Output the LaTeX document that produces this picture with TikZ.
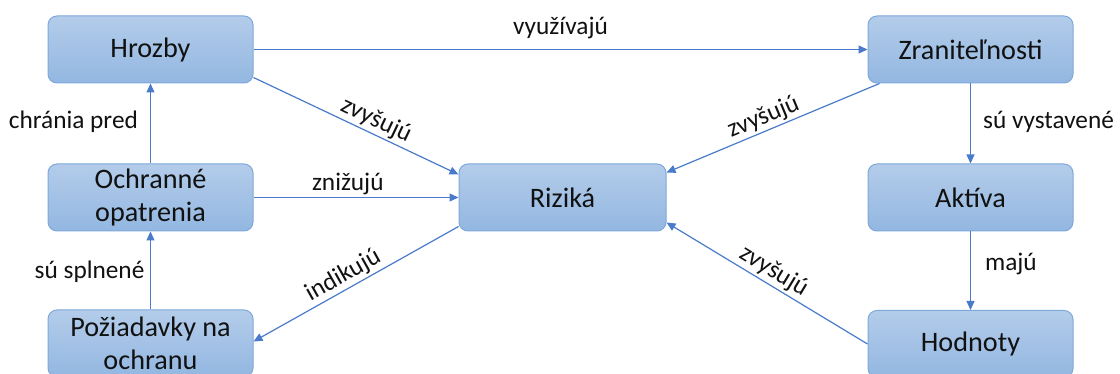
\documentclass[tikz,border=0pt]{standalone}
\usepackage{fontspec}
\setmainfont{Carlito}
\usetikzlibrary{arrows.meta,calc}
\definecolor{boxtop}{HTML}{B3CCEA}
\definecolor{boxbot}{HTML}{93B7E1}
\definecolor{boxline}{HTML}{7EA8DA}
\definecolor{arr}{HTML}{4A7BCB}
\definecolor{txt}{HTML}{111111}
\tikzset{
 box/.style={draw=boxline, line width=1pt, rounded corners=9pt, top color=boxtop, bottom color=boxbot, minimum width=205pt, minimum height=67pt, align=center, inner sep=0pt, text=txt, font=\fontsize{28.2}{33.5}\selectfont},
 conn/.style={draw=arr, line width=1.2pt, -{Triangle[length=9pt,width=8pt]}},
 lbl/.style={text=txt, font=\fontsize{25.3}{30}\selectfont, inner sep=2pt}
}
\begin{document}
\begin{tikzpicture}[x=1pt,y=-1pt]
\useasboundingbox (0,0) rectangle (1120,374);
\node[box] (hroz) at (150.5,49.5) {Hrozby};
\node[box] (ochr) at (150.5,197.5) {Ochranné\\opatrenia};
\node[box] (poz) at (150.5,343.5) {Požiadavky na\\ochranu};
\node[box,minimum width=207pt] (riz) at (562.5,197.5) {Riziká};
\node[box] (zran) at (970.5,49.5) {Zraniteľnosti};
\node[box] (akt) at (970.5,197.5) {Aktíva};
\node[box] (hod) at (970.5,344) {Hodnoty};

\draw[conn] (hroz) -- node[lbl,above,yshift=8pt]{využívajú} (zran);
\draw[conn] ($(hroz.south east)+(0,-6)$) -- node[lbl,sloped,above,pos=0.57]{zvyšujú} ($(riz.north west)+(0,11)$);
\draw[conn] (ochr) -- node[lbl,above,pos=0.46]{znižujú} (riz);
\draw[conn] ($(riz.south west)+(0,-5)$) -- node[lbl,sloped,above,pos=0.53]{indikujú} ($(poz.east)+(0,-2)$);
\draw[conn] ($(zran.south west)+(12,0)$) -- node[lbl,sloped,above,pos=0.52]{zvyšujú} ($(riz.north east)+(0,9)$);
\draw[conn] (hod.west) -- node[lbl,sloped,above,pos=0.5]{zvyšujú} ($(riz.south east)+(0,-9)$);
\draw[conn] (zran) -- node[lbl,right,pos=0.48,xshift=10pt]{sú vystavené} (akt);
\draw[conn] (akt) -- node[lbl,right,pos=0.41,xshift=12pt]{majú} (hod);
\draw[conn] (ochr) -- node[lbl,left,pos=0.52,xshift=-10pt]{chránia pred} (hroz);
\draw[conn] (poz) -- node[lbl,left,pos=0.49,xshift=-3.5pt]{sú splnené} (ochr);
\end{tikzpicture}
\end{document}
